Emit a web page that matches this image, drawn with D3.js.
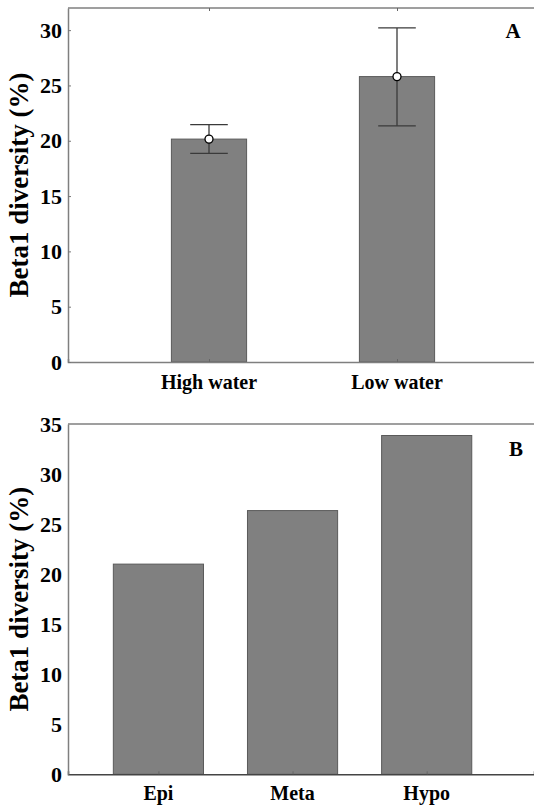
<!DOCTYPE html>
<html>
<head>
<meta charset="utf-8">
<script src="https://cdn.jsdelivr.net/npm/d3@7"></script>
<style>
  html, body { margin: 0; padding: 0; background: #fff; }
  svg { display: block; }
</style>
</head>
<body>
<svg id="chart" width="534" height="807"></svg>
<script>
// Panel A data
const catsA = ["High water", "Low water"];
const meanA = [20.15, 25.8];
const upperA = [21.45, 30.2];
const lowerA = [18.85, 21.35];
const ticksA = [0, 5, 10, 15, 20, 25, 30];

// Panel B data
const catsB = ["Epi", "Meta", "Hypo"];
const valuesB = [21.0, 26.35, 33.85];
const ticksB = [0, 5, 10, 15, 20, 25, 30, 35];

const yLabel = "Beta1 diversity (%)";
const FONT = '"Liberation Serif", "Times New Roman", Times, serif';
const svg = d3.select("#chart");
const axisColor = "#7f7f7f";
const barFill = "#808080";
const barStroke = "#5a5a5a";

function styleText(sel, size) {
  return sel.style("font-family", FONT).style("font-weight", "bold")
    .style("font-size", size + "px").style("fill", "#000");
}

function panel(opts) {
  const g = svg.append("g");
  const x = d3.scaleLinear().domain(opts.xDomain).range([opts.left, opts.right]);
  const y = d3.scaleLinear().domain(opts.yDomain).range([opts.bottom, opts.top]);
  const idx = opts.cats.map((c, i) => i + 1);

  // bars
  g.selectAll("rect.bar").data(opts.values).join("rect")
    .attr("class", "bar")
    .attr("x", (d, i) => x(i + 1 - opts.barW / 2))
    .attr("width", (d, i) => x(i + 1 + opts.barW / 2) - x(i + 1 - opts.barW / 2))
    .attr("y", d => y(d))
    .attr("height", d => y(0) - y(d))
    .attr("fill", barFill)
    .attr("stroke", barStroke)
    .attr("stroke-width", 1);

  // top border
  g.append("line").attr("x1", opts.left).attr("x2", opts.right)
    .attr("y1", opts.top).attr("y2", opts.top)
    .attr("stroke", axisColor).attr("stroke-width", 1.5);

  // x axis
  const xAxis = d3.axisBottom(x).tickValues(idx).tickSize(-3).tickFormat(() => "");
  const gx = g.append("g").attr("transform", `translate(0,${opts.bottom})`).call(xAxis);
  gx.select(".domain").attr("stroke", opts.xAxisColor).attr("stroke-width", 1.5);
  gx.selectAll(".tick line").attr("stroke", "#666");
  if (opts.topTicks) {
    const xTop = d3.axisTop(x).tickValues(idx).tickSize(-3).tickFormat(() => "");
    const gt = g.append("g").attr("transform", `translate(0,${opts.top})`).call(xTop);
    gt.select(".domain").remove();
    gt.selectAll(".tick line").attr("stroke", "#666");
  }
  // x labels
  styleText(g.selectAll("text.xl").data(opts.cats).join("text")
    .attr("class", "xl")
    .attr("x", (d, i) => x(i + 1))
    .attr("y", opts.xLabelY)
    .attr("text-anchor", "middle"), 20)
    .text(d => d);

  // y axis
  const yAxis = d3.axisLeft(y).tickValues(opts.ticks).tickSizeOuter(0)
    .tickSizeInner(opts.yTickIn ? -3 : 0).tickPadding(6).tickFormat(d3.format("d"));
  const gy = g.append("g").attr("transform", `translate(${opts.left},0)`).call(yAxis);
  gy.select(".domain").attr("stroke", axisColor).attr("stroke-width", 1.5);
  gy.selectAll(".tick line").attr("stroke", "#777");
  styleText(gy.selectAll(".tick text"), 22);

  // y label
  styleText(g.append("text")
    .attr("transform", `translate(${opts.yLabelX},${(opts.top + opts.bottom) / 2}) rotate(-90)`)
    .attr("text-anchor", "middle"), 27)
    .text(yLabel);

  // panel letter
  styleText(g.append("text").attr("x", opts.letterX).attr("y", opts.letterY)
    .attr("text-anchor", "middle"), 21).text(opts.letter);

  return { g, x, y };
}

const A = panel({
  cats: catsA, values: meanA, xDomain: [0.25, 2.75], yDomain: [0, 32],
  left: 68, right: 538, top: 8, bottom: 362, barW: 0.4,
  ticks: ticksA, xLabelY: 389, yLabelX: 28, letter: "A", letterX: 513, letterY: 38,
  xAxisColor: axisColor, topTicks: true, yTickIn: true
});

// error bars panel A
const capHalf = 0.1;
const eb = A.g.append("g");
eb.selectAll("line.v").data(meanA).join("line")
  .attr("x1", (d, i) => A.x(i + 1)).attr("x2", (d, i) => A.x(i + 1))
  .attr("y1", (d, i) => A.y(upperA[i])).attr("y2", (d, i) => A.y(lowerA[i]))
  .attr("stroke", "#3a3a3a").attr("stroke-width", 1.3);
eb.selectAll("line.u").data(upperA).join("line")
  .attr("x1", (d, i) => A.x(i + 1 - capHalf)).attr("x2", (d, i) => A.x(i + 1 + capHalf))
  .attr("y1", d => A.y(d)).attr("y2", d => A.y(d))
  .attr("stroke", "#3a3a3a").attr("stroke-width", 1.3);
eb.selectAll("line.l").data(lowerA).join("line")
  .attr("x1", (d, i) => A.x(i + 1 - capHalf)).attr("x2", (d, i) => A.x(i + 1 + capHalf))
  .attr("y1", d => A.y(d)).attr("y2", d => A.y(d))
  .attr("stroke", "#3a3a3a").attr("stroke-width", 1.3);
eb.selectAll("circle").data(meanA).join("circle")
  .attr("cx", (d, i) => A.x(i + 1)).attr("cy", d => A.y(d)).attr("r", 4)
  .attr("fill", "#fff").attr("stroke", "#000").attr("stroke-width", 1.3);

const B = panel({
  cats: catsB, values: valuesB, xDomain: [0.326, 3.8], yDomain: [0, 35],
  left: 68, right: 534, top: 424, bottom: 774.3, barW: 0.672,
  ticks: ticksB, xLabelY: 800, yLabelX: 28, letter: "B", letterX: 516, letterY: 456,
  xAxisColor: "#444", topTicks: false, yTickIn: false
});
</script>
</body>
</html>
